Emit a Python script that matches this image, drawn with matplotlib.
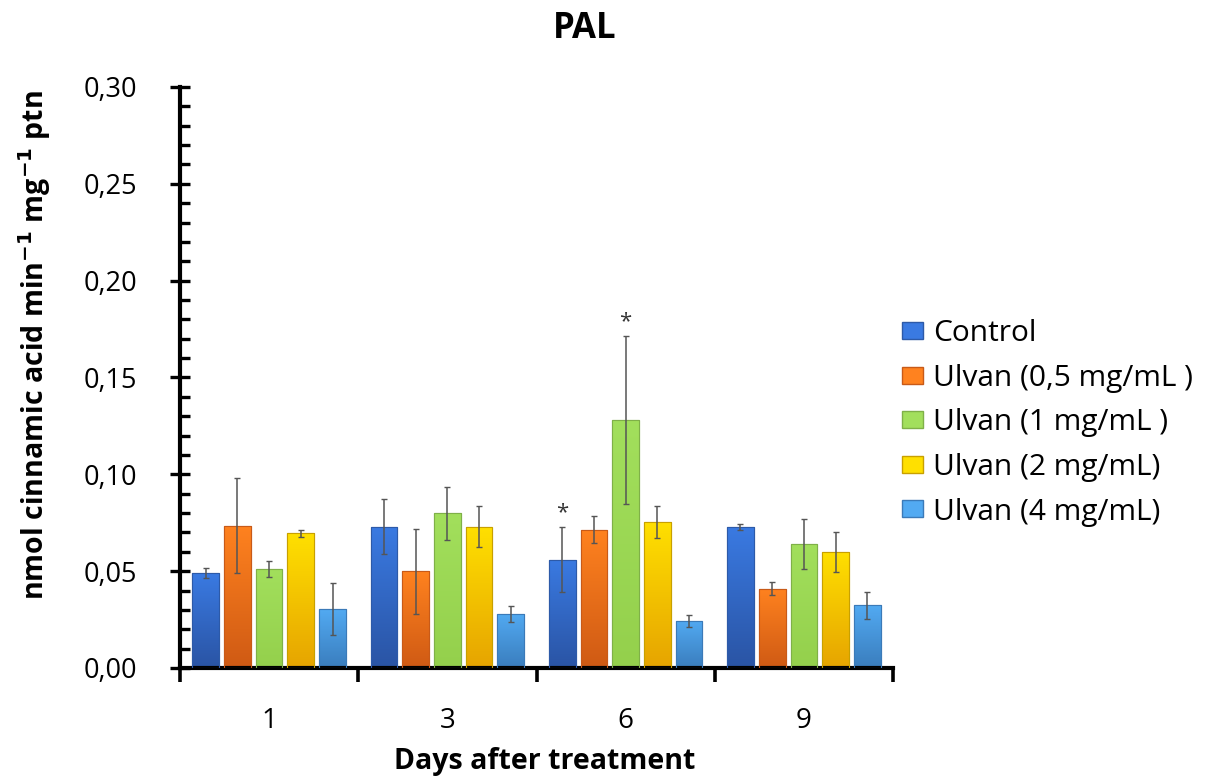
import numpy as np
import matplotlib
matplotlib.use("Agg")
import matplotlib.pyplot as plt
from matplotlib.colors import LinearSegmentedColormap
from matplotlib.patches import Patch
from matplotlib.ticker import MultipleLocator, FuncFormatter

plt.rcParams['font.family'] = ['Open Sans', 'DejaVu Sans']

days = ["1", "3", "6", "9"]
series = ["Control", "Ulvan (0,5 mg/mL )", "Ulvan (1 mg/mL )", "Ulvan (2 mg/mL)", "Ulvan (4 mg/mL)"]
control = [0.049, 0.073, 0.056, 0.073]
ulvan05 = [0.0735, 0.050, 0.0715, 0.041]
ulvan1 = [0.051, 0.080, 0.128, 0.064]
ulvan2 = [0.0695, 0.073, 0.0755, 0.060]
ulvan4 = [0.0303, 0.028, 0.0243, 0.0324]
err_control = [0.0027, 0.0143, 0.0167, 0.0015]
err_ulvan05 = [0.0245, 0.022, 0.007, 0.0033]
err_ulvan1 = [0.004, 0.0137, 0.0433, 0.013]
err_ulvan2 = [0.0017, 0.0106, 0.0084, 0.0104]
err_ulvan4 = [0.0134, 0.0042, 0.003, 0.0071]
# significance marks: (day index, series index)
stars = [(2, 0), (2, 2)]

values = [control, ulvan05, ulvan1, ulvan2, ulvan4]
errors = [err_control, err_ulvan05, err_ulvan1, err_ulvan2, err_ulvan4]
top_colors = ["#3a7ae2", "#ff821f", "#a2df5c", "#ffe000", "#52aaf2"]
bot_colors = ["#2a54a4", "#cf5a14", "#94d04c", "#e6a400", "#3a7dbd"]
edge_colors = ["#2d5aa8", "#c85a18", "#7fb048", "#c8a000", "#3b7ab8"]

fig = plt.figure(figsize=(12.05, 7.76), dpi=100)
ax = fig.add_axes([180/1205, 108/776, 713/1205, 581/776])

x = np.arange(len(days))
step = 0.178
width = 0.15
for i, (vals, errs) in enumerate(zip(values, errors)):
    pos = x + (i - 2) * step
    bars = ax.bar(pos, vals, width=width, color=top_colors[i], edgecolor=edge_colors[i],
                  linewidth=0.8, zorder=2)
    cmap = LinearSegmentedColormap.from_list("g%d" % i, [bot_colors[i], top_colors[i]])
    grad = np.linspace(0, 1, 256).reshape(-1, 1)
    for b in bars:
        x0, y0 = b.get_x(), b.get_y()
        w, h = b.get_width(), b.get_height()
        im = ax.imshow(grad, cmap=cmap, origin="lower", aspect="auto",
                       extent=[x0, x0 + w, y0, y0 + h], zorder=2.5)
        im.set_clip_path(b)
        ax.add_patch(plt.Rectangle((x0, y0), w, h, fill=False, edgecolor=edge_colors[i],
                                   linewidth=0.8, zorder=2.6))
    ax.errorbar(pos, vals, yerr=errs, fmt="none", ecolor="#555555", elinewidth=1.1,
                capsize=2, capthick=1.0, zorder=3)

for d, s in stars:
    pos = x[d] + (s - 2) * step
    ax.annotate("*", (pos, values[s][d] + errors[s][d]), xytext=(0, 3),
                textcoords="offset points", ha="center", va="bottom", fontsize=16,
                color="#333333")

ax.set_xlim(-0.5, len(days) - 0.5)
ax.set_ylim(0, 0.30)
ax.yaxis.set_major_locator(MultipleLocator(0.05))
ax.yaxis.set_minor_locator(MultipleLocator(0.01))
ax.yaxis.set_major_formatter(FuncFormatter(lambda v, p: ("%.2f" % v).replace(".", ",")))
ax.set_xticks(x)
ax.set_xticklabels(days)
ax.set_xticks(np.arange(len(days) + 1) - 0.5, minor=True)

for s in ["top", "right"]:
    ax.spines[s].set_visible(False)
for s in ["left", "bottom"]:
    ax.spines[s].set_linewidth(3)
    ax.spines[s].set_color("black")

ax.tick_params(axis="y", which="major", direction="inout", length=14, width=2.4,
               labelsize=19.5, pad=24)
ax.tick_params(axis="y", which="minor", direction="in", length=7, width=2.4)
ax.tick_params(axis="x", which="major", length=0, labelsize=20, pad=28)
ax.tick_params(axis="x", which="minor", direction="out", length=10, width=2.6)

ax.set_xlabel("Days after treatment", fontsize=20.5, fontweight="bold", va="center")
ax.xaxis.set_label_coords((545 - 180)/713, -(762 - 668)/581)
ax.set_ylabel("nmol cinnamic acid min$^{\\mathbf{-1}}$ mg$^{\\mathbf{-1}}$ ptn", fontsize=20.5,
              fontweight="bold", va="center")
ax.yaxis.set_label_coords(-(180 - 35)/713, (668 - 345)/581)
fig.text(585/1205, 1 - 29/776, "PAL", ha="center", va="center", fontsize=25,
         fontweight="bold")

handles = [Patch(facecolor=top_colors[i], edgecolor=edge_colors[i], label=series[i])
           for i in range(len(series))]
fig.legend(handles=handles, loc="center left", bbox_to_anchor=(902/1205, 1 - 423/776),
           frameon=False, fontsize=21.5, handlelength=0.7, handleheight=0.5,
           handletextpad=0.33, labelspacing=0.52, borderpad=0, borderaxespad=0)

fig.savefig("out.png", dpi=100)
